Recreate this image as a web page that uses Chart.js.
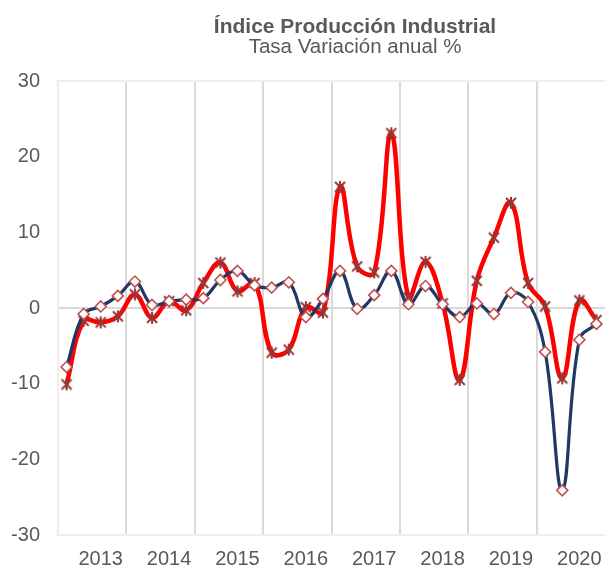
<!DOCTYPE html>
<html lang="es">
<head>
    <meta charset="UTF-8">
    <title>Índice Producción Industrial</title>
    <script src="https://cdn.jsdelivr.net/npm/chart.js"></script>
    <style>
        body { margin: 0; background: #fff; }
        #wrap { position: relative; width: 605px; height: 572px; font-family: "Liberation Sans", Arial, sans-serif; color: #595959; }
        .t { position: absolute; left: 100px; width: 510px; text-align: center; font-size: 21px; line-height: 22px; white-space: nowrap; }
        #t1 { top: 15px; font-weight: bold; }
        #t2 { top: 35px; font-size: 20.5px; }
        canvas { position: absolute; left: 0; top: 0; }
    </style>
</head>
<body>
<div id="wrap">
    <canvas id="ipi" width="605" height="572"></canvas>
    <div class="t" id="t1">Índice Producción Industrial</div>
    <div class="t" id="t2">Tasa Variación anual %</div>
</div>
<script>
    // trimestres 2013 T1 .. 2020 T4
    const years = ['2013', '2014', '2015', '2016', '2017', '2018', '2019', '2020'];
    const quarters = years.flatMap(y => ['T1', 'T2', 'T3', 'T4'].map(q => y + ' ' + q));

    // serie azul (rombos)
    const serieGeneral = [-7.8, -0.8, 0.2, 1.6, 3.5, 0.4, 0.9, 1.1,
        1.3, 3.7, 4.9, 3.0, 2.7, 3.4, -1.2, 1.2,
        4.9, -0.1, 1.7, 4.9, 0.5, 2.9, 0.5, -1.2,
        0.6, -0.8, 2.0, 0.8, -5.8, -24.1, -4.2, -2.1];
    // serie roja (asteriscos)
    const serieRoja = [-10.1, -1.7, -1.9, -1.1, 1.8, -1.3, 0.9, -0.3,
        3.3, 6.0, 2.2, 3.3, -5.9, -5.5, 0.1, -0.6,
        16.0, 5.5, 4.7, 23.1, 1.4, 6.1, 0.6, -9.5,
        3.6, 9.3, 13.9, 3.3, 0.2, -9.3, 1.0, -1.6];

    const yTicks = [30, 20, 10, 0, -10, -20, -30];

    // marcador tipo asterisco (X + barra vertical)
    function starMarker() {
        const c = document.createElement('canvas');
        c.width = 14; c.height = 14;
        const g = c.getContext('2d');
        g.strokeStyle = '#953735';
        g.lineWidth = 2;
        g.beginPath();
        g.moveTo(2, 2); g.lineTo(12, 12);
        g.moveTo(12, 2); g.lineTo(2, 12);
        g.moveTo(7, 1); g.lineTo(7, 13);
        g.stroke();
        return c;
    }

    const border = '#efeee4';
    const grid = '#d9d9d9';

    new Chart(document.getElementById('ipi'), {
        type: 'line',
        data: {
            labels: quarters,
            datasets: [
                {
                    label: 'General',
                    data: serieGeneral,
                    borderColor: '#1f3864',
                    borderWidth: 3.2,
                    tension: 0.4,
                    pointStyle: 'rectRot',
                    pointRadius: 5.5,
                    pointBorderWidth: 1.6,
                    pointBorderColor: '#c0504d',
                    pointBackgroundColor: '#ffffff'
                },
                {
                    label: 'Corregida',
                    data: serieRoja,
                    borderColor: '#ff0000',
                    borderWidth: 4.5,
                    tension: 0.4,
                    pointStyle: starMarker(),
                    pointRadius: 7
                }
            ]
        },
        options: {
            responsive: false,
            animation: false,
            layout: { autoPadding: false, padding: { top: 81, left: 0, right: 0, bottom: 0 } },
            plugins: {
                legend: { display: false },
                tooltip: { enabled: false }
            },
            scales: {
                x: {
                    offset: true,
                    grid: {
                        offset: true,
                        drawTicks: false,
                        lineWidth: 2,
                        color: ctx => ctx.index === 0 ? border : (ctx.index % 4 === 0 ? grid : 'rgba(0,0,0,0)')
                    },
                    border: { color: border, width: 2 },
                    ticks: {
                        autoSkip: false,
                        maxRotation: 0,
                        padding: 12,
                        color: '#595959',
                        font: { family: 'Liberation Sans', size: 20 },
                        callback: (v, i) => i % 4 === 2 ? years[Math.floor(i / 4)] : ''
                    },
                    afterFit: s => { s.height = 37; s.paddingLeft = 0; s.paddingRight = 0; }
                },
                y: {
                    min: -30,
                    max: 30,
                    afterBuildTicks: s => { s.ticks = yTicks.map(v => ({ value: v })); },
                    grid: {
                        drawTicks: false,
                        lineWidth: 2,
                        color: ctx => ctx.tick.value === 0 ? grid : (Math.abs(ctx.tick.value) === 30 ? border : 'rgba(0,0,0,0)')
                    },
                    border: { color: border, width: 2 },
                    ticks: {
                        padding: 18,
                        color: '#595959',
                        font: { family: 'Liberation Sans', size: 20 }
                    },
                    afterFit: s => { s.width = 58; }
                }
            }
        }
    });
</script>
</body>
</html>
